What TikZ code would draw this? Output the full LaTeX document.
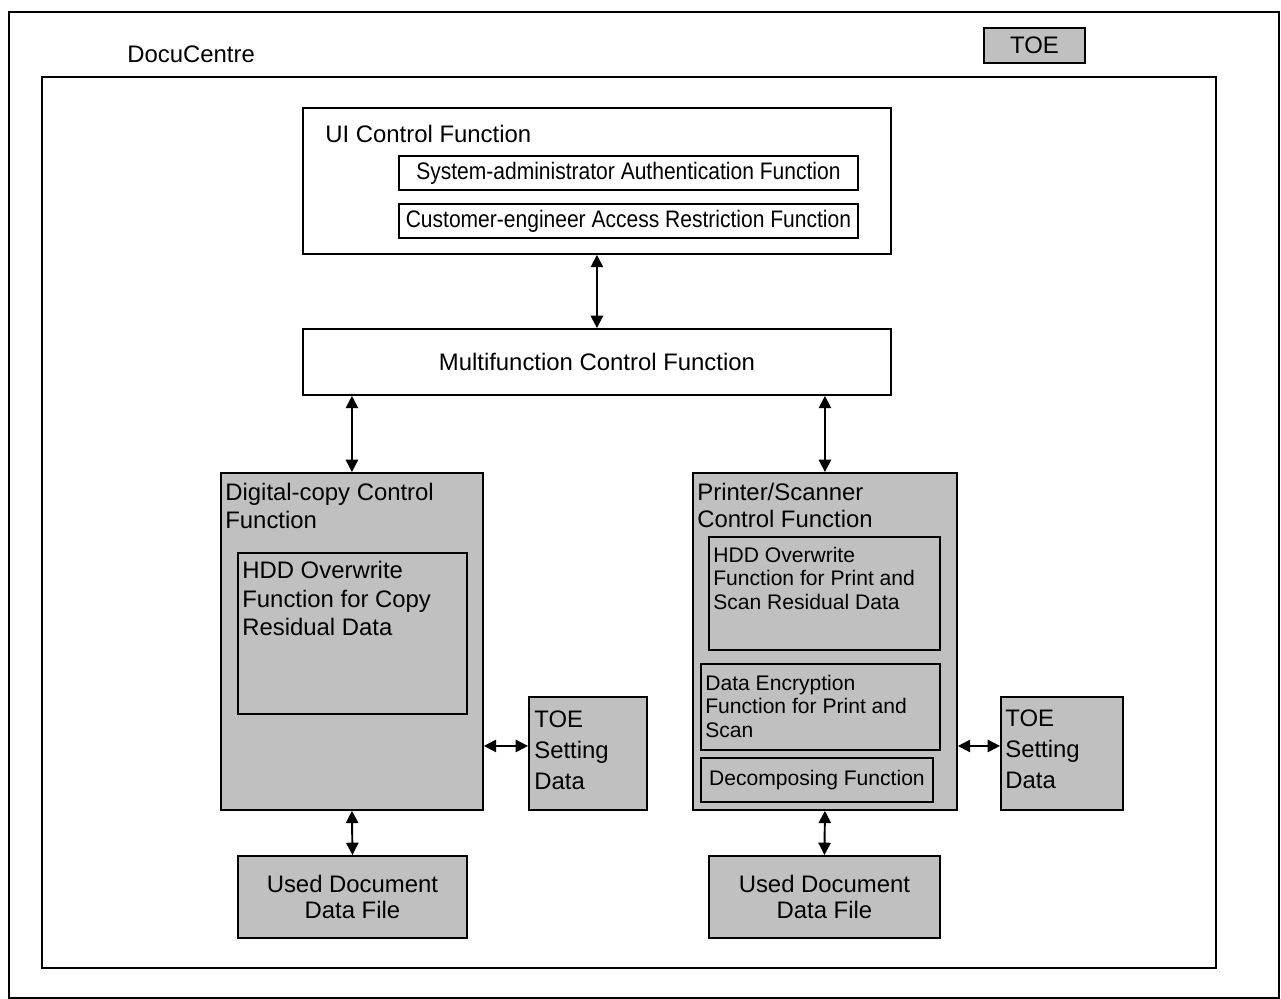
\documentclass[tikz,border=0pt]{standalone}
\usepackage{fontspec}
\setmainfont{Liberation Sans}
\newfontfamily\narrowsans[FakeStretch=0.88]{Liberation Sans}
\usetikzlibrary{arrows.meta,positioning}
\definecolor{boxgray}{HTML}{C0C0C0}

\begin{document}
\begin{tikzpicture}[x=0.02cm,y=-0.02cm,>={Triangle[length=7pt,width=7pt]},
  frame/.style={draw,line width=1.3pt,anchor=north west,inner sep=0pt},
  wbox/.style={draw,line width=1.1pt,anchor=north west,fill=white,inner sep=0pt,align=center,font=\fontsize{13.6}{15.9}\selectfont},
  gbox/.style={wbox,fill=boxgray},
  ttl/.style={anchor=north west,inner sep=0pt,align=left,font=\fontsize{13.6}{15.9}\selectfont},
  sttl/.style={ttl,font=\fontsize{12}{13.3}\selectfont},
  link/.style={<->,line width=1.1pt}]
\useasboundingbox (0,0) rectangle (1281,999);
\node[frame,minimum width=25.4cm,minimum height=19.72cm] (outer) at (8,11) {};
\node[frame,minimum width=23.48cm,minimum height=17.82cm] (docu) at (41,76) {};
\node[ttl,anchor=base west] (docu-lbl) at (127,63) {DocuCentre};
\node[gbox,minimum width=2.02cm,minimum height=0.70cm] (legend) at (983,27) {TOE};
\node[wbox,minimum width=11.76cm,minimum height=2.92cm] (ui) at (302,107) {};
\node[ttl,anchor=base west] (ui-lbl) at (325,143) {UI Control Function};
\node[wbox,minimum width=9.18cm,minimum height=0.68cm,font=\narrowsans\fontsize{13.6}{15.9}\selectfont] (sysadm) at (398,155) {System-administrator Authentication Function};
\node[wbox,minimum width=9.18cm,minimum height=0.68cm,font=\narrowsans\fontsize{13.6}{15.9}\selectfont] (ce) at (398,203) {Customer-engineer Access Restriction Function};
\node[wbox,minimum width=11.76cm,minimum height=1.32cm] (mfc) at (302,328) {Multifunction Control Function};
\node[gbox,minimum width=5.24cm,minimum height=6.74cm] (dcc) at (220,472) {};
\node[ttl] (dcc-lbl) at (225,483) {Digital-copy Control\\Function};
\node[gbox,minimum width=4.58cm,minimum height=3.22cm] (dcc-hdd) at (237,552) {};
\node[ttl,font=\fontsize{13.6}{16.2}\selectfont] (dcc-hdd-lbl) at (242,561) {HDD Overwrite\\Function for Copy\\Residual Data};
\node[gbox,minimum width=2.36cm,minimum height=2.26cm] (set-l) at (528,696) {};
\node[ttl,font=\fontsize{13.6}{17.9}\selectfont] (set-l-lbl) at (534,710) {TOE\\Setting\\Data};
\node[gbox,minimum width=4.58cm,minimum height=1.64cm,font=\fontsize{13.6}{15.3}\selectfont] (doc-l) at (237,855) {Used Document\\Data File};
\node[gbox,minimum width=5.28cm,minimum height=6.74cm] (psc) at (692,472) {};
\node[ttl,font=\fontsize{13.6}{15.3}\selectfont] (psc-lbl) at (697,483) {Printer/Scanner\\Control Function};
\node[gbox,minimum width=4.62cm,minimum height=2.26cm] (psc-hdd) at (708,536) {};
\node[sttl] (psc-hdd-lbl) at (713,547) {HDD Overwrite\\Function for Print and\\Scan Residual Data};
\node[gbox,minimum width=4.78cm,minimum height=1.72cm] (enc) at (700,663) {};
\node[sttl] (enc-lbl) at (705,675) {Data Encryption\\Function for Print and\\Scan};
\node[gbox,minimum width=4.64cm,minimum height=0.88cm,font=\fontsize{12}{13.3}\selectfont] (dec) at (700,757) {Decomposing Function};
\node[gbox,minimum width=2.44cm,minimum height=2.26cm] (set-r) at (1000,696) {};
\node[ttl,font=\fontsize{13.6}{17.9}\selectfont] (set-r-lbl) at (1005,709) {TOE\\Setting\\Data};
\node[gbox,minimum width=4.62cm,minimum height=1.64cm,font=\fontsize{13.6}{15.3}\selectfont] (doc-r) at (708,855) {Used Document\\Data File};
\draw[link] (ui.south) -- (mfc.north);
\draw[link] (mfc.south -| dcc.north) -- (dcc.north);
\draw[link] (mfc.south -| psc.north) -- (psc.north);
\draw[link] (dcc.south) -- (doc-l.north);
\draw[link] (psc.south) -- (doc-r.north);
\coordinate (lvl) at ([yshift=0.15cm]set-l.west);
\draw[link] (lvl -| dcc.east) -- (lvl);
\coordinate (rvl) at ([yshift=0.15cm]set-r.west);
\draw[link] (rvl -| psc.east) -- (rvl);
\end{tikzpicture}
\end{document}
